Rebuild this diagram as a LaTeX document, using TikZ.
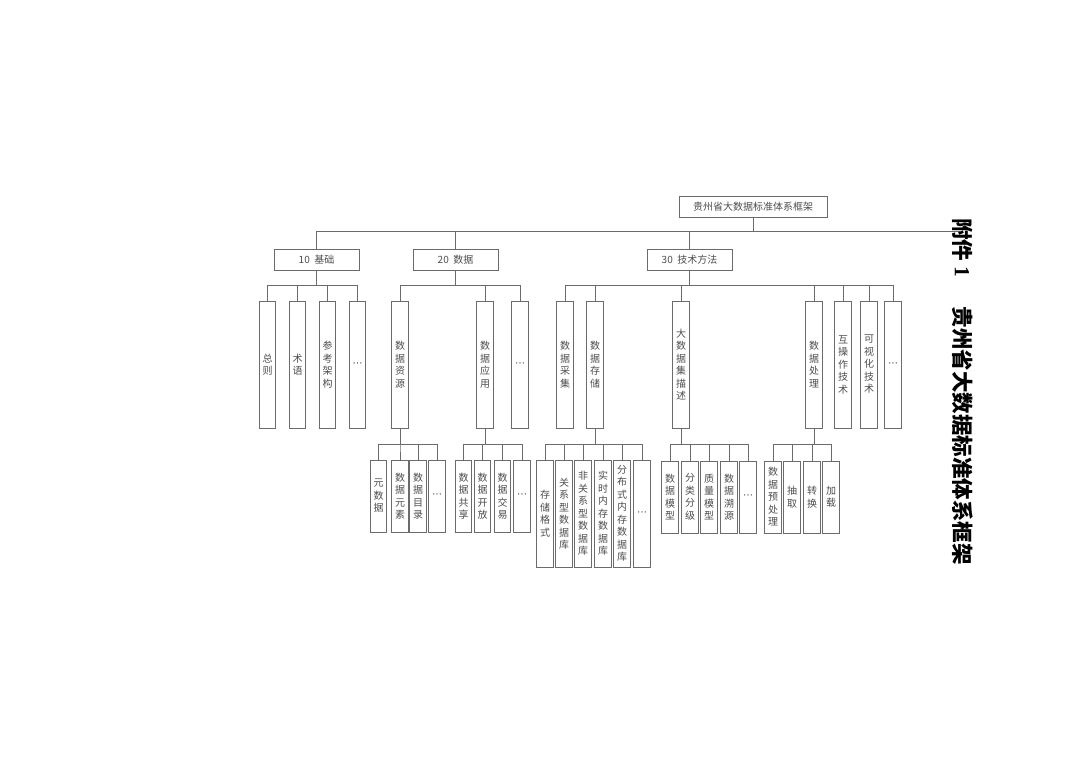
\documentclass[tikz,border=0pt]{standalone}
\usepackage{fontspec}
\newfontfamily\cjk{Noto Sans CJK SC}
\newfontfamily\tnr{Liberation Serif}
\newfontfamily\dejavu{DejaVu Sans}
\newcommand{\etcdots}{{\dejavu ⋯}}
\definecolor{linegray}{gray}{0.42}
\definecolor{txtgray}{gray}{0.30}
\tikzset{
  base/.style={draw=linegray, line width=0.8pt, inner sep=0pt, text=txtgray,
    font=\cjk\fontsize{10}{12.5}\selectfont, align=center},
  hbox/.style={base, minimum width=85pt, minimum height=21pt},
  vbox/.style={base, minimum width=16.5pt, minimum height=127pt},
  leaf/.style={base, minimum width=16.5pt, minimum height=72pt},
  tall/.style={base, minimum width=16.5pt, minimum height=107pt},
  link/.style={draw=linegray, line width=0.8pt}
}
\begin{document}
\begin{tikzpicture}[x=1pt,y=-1pt]
\useasboundingbox (0,0) rectangle (1080,764);
% root and first level
\node[hbox, minimum width=148pt] (root) at (753,206.5) {贵州省大数据标准体系框架};
\node[hbox] (b10) at (316.5,259.5) {10\ \ 基础};
\node[hbox] (b20) at (455.5,259.5) {20\ \ 数据};
\node[hbox] (b30) at (689.5,259.5) {30\ \ 技术方法};
\coordinate (busend) at (960,231);
\foreach \c in {b10,b20,b30} \draw[link] (root.south) -- ++(0,14) -| (\c.north);
\draw[link] (root.south) |- (busend);
% second level
\node[vbox] (zongze) at (267.5,364.5) {总\\则};
\node[vbox] (shuyu) at (297.5,364.5) {术\\语};
\node[vbox] (cankao) at (327.5,364.5) {参\\考\\架\\构};
\node[vbox] (etcA) at (357.5,364.5) {\etcdots};
\node[vbox] (ziyuan) at (400,364.5) {数\\据\\资\\源};
\node[vbox] (yingyong) at (485,364.5) {数\\据\\应\\用};
\node[vbox] (etcB) at (520,364.5) {\etcdots};
\node[vbox] (caiji) at (565,364.5) {数\\据\\采\\集};
\node[vbox] (cunchu) at (595,364.5) {数\\据\\存\\储};
\node[vbox] (miaoshu) at (681,364.5) {大\\数\\据\\集\\描\\述};
\node[vbox] (chuli) at (814,364.5) {数\\据\\处\\理};
\node[vbox] (hucaozuo) at (843,364.5) {互\\操\\作\\技\\术};
\node[vbox] (keshihua) at (869,364.5) {可\\视\\化\\技\\术};
\node[vbox] (etcC) at (893,364.5) {\etcdots};
\foreach \c in {zongze,shuyu,cankao,etcA} \draw[link] (b10.south) -- ++(0,15) -| (\c.north);
\foreach \c in {ziyuan,yingyong,etcB} \draw[link] (b20.south) -- ++(0,15) -| (\c.north);
\foreach \c in {caiji,cunchu,miaoshu,chuli,hucaozuo,keshihua,etcC} \draw[link] (b30.south) -- ++(0,15) -| (\c.north);
% third level
\node[leaf] (yuan) at (378.5,496) {元\\数\\据};
\node[leaf] (yuansu) at (400,496) {数\\据\\元\\素};
\node[leaf] (mulu) at (418,496) {数\\据\\目\\录};
\node[leaf] (etcD) at (437,496) {\etcdots};
\node[leaf] (gongxiang) at (463.5,496) {数\\据\\共\\享};
\node[leaf] (kaifang) at (482.5,496) {数\\据\\开\\放};
\node[leaf] (jiaoyi) at (502.5,496) {数\\据\\交\\易};
\node[leaf] (etcE) at (522,496) {\etcdots};
\node[tall] (geshi) at (545,513.5) {存\\储\\格\\式};
\node[tall] (guanxi) at (564,513.5) {关\\系\\型\\数\\据\\库};
\node[tall] (feiguanxi) at (583,513.5) {非\\关\\系\\型\\数\\据\\库};
\node[tall] (shishi) at (603,513.5) {实\\时\\内\\存\\数\\据\\库};
\node[tall] (fenbu) at (622,513.5) {分\\布\\式\\内\\存\\数\\据\\库};
\node[tall] (etcF) at (642,513.5) {\etcdots};
\node[leaf] (moxing) at (670,497) {数\\据\\模\\型};
\node[leaf] (fenlei) at (690,497) {分\\类\\分\\级};
\node[leaf] (zhiliang) at (709,497) {质\\量\\模\\型};
\node[leaf] (suyuan) at (729,497) {数\\据\\溯\\源};
\node[leaf] (etcG) at (748,497) {\etcdots};
\node[leaf] (yuchuli) at (773,497) {数\\据\\预\\处\\理};
\node[leaf] (chouqu) at (792,497) {抽\\取};
\node[leaf] (zhuanhuan) at (812,497) {转\\换};
\node[leaf] (jiazai) at (831,497) {加\\载};
\foreach \c in {yuan,yuansu,mulu,etcD} \draw[link] (ziyuan.south) -- ++(0,16) -| (\c.north);
\foreach \c in {gongxiang,kaifang,jiaoyi,etcE} \draw[link] (yingyong.south) -- ++(0,16) -| (\c.north);
\foreach \c in {geshi,guanxi,feiguanxi,shishi,fenbu,etcF} \draw[link] (cunchu.south) -- ++(0,16) -| (\c.north);
\foreach \c in {moxing,fenlei,zhiliang,suyuan,etcG} \draw[link] (miaoshu.south) -- ++(0,16) -| (\c.north);
\foreach \c in {yuchuli,chouqu,zhuanhuan,jiazai} \draw[link] (chuli.south) -- ++(0,16) -| (\c.north);
% title on the right
\node[rotate=-90, anchor=west, inner sep=0pt, font=\cjk\bfseries\fontsize{21.5}{24}\selectfont] (title) at (963,218) {附件\ {\tnr\bfseries 1}\hspace{30pt}贵州省大数据标准体系框架};
\end{tikzpicture}
\end{document}
